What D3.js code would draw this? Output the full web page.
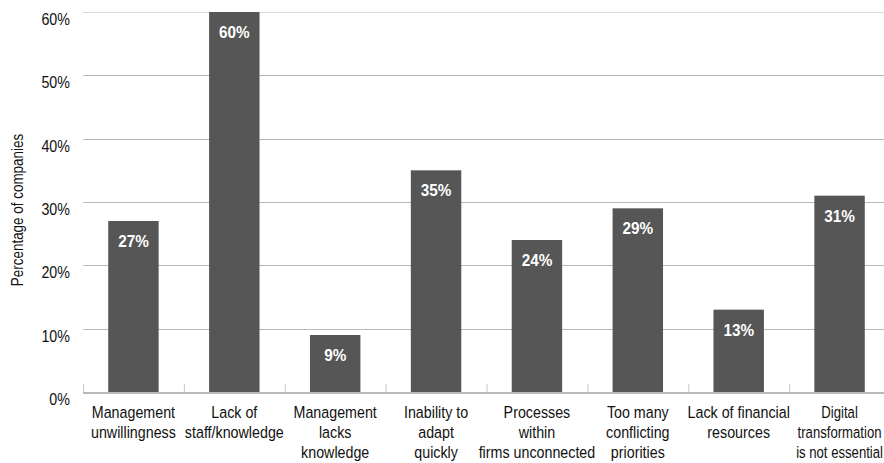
<!DOCTYPE html>
<html>
<head>
<meta charset="utf-8">
<script src="https://cdn.jsdelivr.net/npm/d3@7"></script>
<style>
  html, body { margin: 0; padding: 0; background: #fff; overflow: hidden; }
  svg { display: block; }
  text { font-family: "Liberation Sans", Arial, sans-serif; }
</style>
</head>
<body>
<svg id="chart" width="884" height="463"></svg>
<script>
// Barriers to digital transformation, share of companies
const categories = [
  ["Management", "unwillingness"],
  ["Lack of", "staff/knowledge"],
  ["Management", "lacks", "knowledge"],
  ["Inability to", "adapt", "quickly"],
  ["Processes", "within", "firms unconnected"],
  ["Too many", "conflicting", "priorities"],
  ["Lack of financial", "resources"],
  ["Digital", "transformation", "is not essential"]
];
const values = [27, 60, 9, 35, 24, 29, 13, 31];
const yTicks = [0, 10, 20, 30, 40, 50, 60];
const yTitle = "Percentage of companies";

const svg = d3.select("#chart");
const width = 884;
const height = 463;
const margin = { left: 83, top: 12, bottom: 71 };
const plotRight = 890;

// condensed look: squeeze text horizontally
const narrow = 0.84;
const narrowBold = 0.9;

const x = d3.scaleBand()
  .domain(d3.range(categories.length))
  .range([margin.left, plotRight])
  .paddingInner(0.5)
  .paddingOuter(0.25);

const y = d3.scaleLinear()
  .domain([0, 60])
  .range([height - margin.bottom, margin.top]);

// horizontal gridlines
svg.append("g")
  .selectAll("line")
  .data(yTicks.filter(d => d > 0))
  .join("line")
  .attr("x1", margin.left)
  .attr("x2", plotRight)
  .attr("y1", d => Math.round(y(d)) + 0.5)
  .attr("y2", d => Math.round(y(d)) + 0.5)
  .attr("stroke", d => d === 60 ? "#d9d9d9" : "#b8b8b8")
  .attr("stroke-width", 1);

// y tick labels
svg.append("g")
  .selectAll("text")
  .data(yTicks)
  .join("text")
  .attr("transform", d => `translate(70, ${y(d) + 13}) scale(${narrow}, 1)`)
  .attr("text-anchor", "end")
  .attr("font-size", 17)
  .attr("fill", "#111")
  .text(d => d + "%");

// y axis title
svg.append("text")
  .attr("transform", `translate(23, ${y(30) + 8}) rotate(-90) scale(${narrow}, 1)`)
  .attr("text-anchor", "middle")
  .attr("font-size", 16)
  .attr("fill", "#111")
  .text(yTitle);

// bars
svg.append("g")
  .selectAll("rect")
  .data(values)
  .join("rect")
  .attr("x", (d, i) => x(i))
  .attr("width", x.bandwidth())
  .attr("y", d => y(d))
  .attr("height", d => y(0) - y(d))
  .attr("fill", "#565656");

// value labels
svg.append("g")
  .selectAll("text")
  .data(values)
  .join("text")
  .attr("transform", (d, i) => `translate(${x(i) + x.bandwidth() / 2}, ${y(d) + 26}) scale(${narrowBold}, 1)`)
  .attr("text-anchor", "middle")
  .attr("font-size", 17)
  .attr("font-weight", "bold")
  .attr("fill", "#fff")
  .text(d => d + "%");

// baseline with category separators
const baseY = y(0);
const step = x.step();
svg.append("line")
  .attr("x1", margin.left)
  .attr("x2", plotRight)
  .attr("y1", baseY + 1)
  .attr("y2", baseY + 1)
  .attr("stroke", "#b8b8b8")
  .attr("stroke-width", 2);

svg.append("g")
  .selectAll("line")
  .data(d3.range(categories.length + 1))
  .join("line")
  .attr("x1", i => margin.left + i * step + 0.5)
  .attr("x2", i => margin.left + i * step + 0.5)
  .attr("y1", baseY - 8)
  .attr("y2", baseY)
  .attr("stroke", "#c8c8c8")
  .attr("stroke-width", 1);

// category labels
const labels = svg.append("g")
  .selectAll("text")
  .data(categories)
  .join("text")
  .attr("text-anchor", "middle")
  .attr("font-size", 17)
  .attr("fill", "#111");

labels.selectAll("tspan")
  .data(d => d)
  .join("tspan")
  .attr("x", 0)
  .attr("dy", (d, i) => i === 0 ? 0 : 20)
  .text(d => d);

// squeeze a label further if its widest line would run past the right edge
labels.attr("transform", function (d, i) {
  const cx = x(i) + x.bandwidth() / 2;
  const widest = d3.max(Array.from(this.querySelectorAll("tspan")), t => t.getComputedTextLength());
  const room = (width - 1 - cx) * 2;
  const s = Math.min(narrow, room / widest);
  return `translate(${cx}, ${baseY + 26}) scale(${s}, 1)`;
});
</script>
</body>
</html>
